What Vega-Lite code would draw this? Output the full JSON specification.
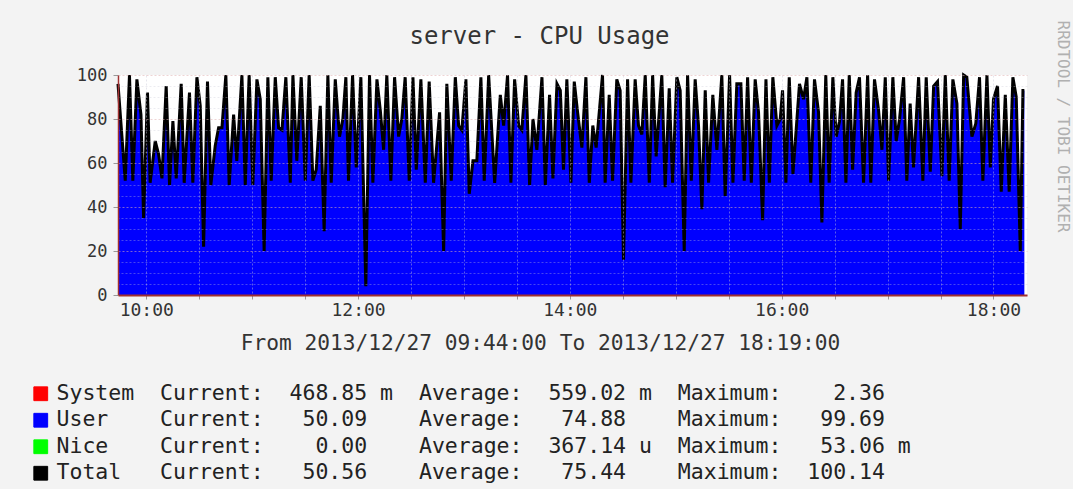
{
  "$schema": "https://vega.github.io/schema/vega-lite/v6.json",
  "width": 909,
  "height": 220,
  "autosize": {"type": "none"},
  "padding": {"left": 118, "top": 75, "right": 46, "bottom": 194},
  "background": "#f3f3f3",
  "config": {"view": {"fill": "#ffffff", "stroke": null}, "font": "DejaVu Sans Mono"},
  "title": {"text": "server - CPU Usage", "font": "DejaVu Sans Mono", "fontSize": 24, "fontWeight": "normal", "color": "#333333", "anchor": "middle", "frame": "group", "dx": -33, "offset": -41, "baseline": "middle"},
  "data": {"values": [
    {"t": 584.0, "v": 96}, {"t": 588.1, "v": 52}, {"t": 590.5, "v": 100}, {"t": 592.4, "v": 52}, {"t": 594.7, "v": 98}, {"t": 597.0, "v": 82}, {"t": 598.5, "v": 35}, {"t": 600.7, "v": 92}, {"t": 602.2, "v": 51}, {"t": 605.1, "v": 70}, {"t": 607.0, "v": 64}, {"t": 608.9, "v": 53}, {"t": 611.3, "v": 95}, {"t": 613.2, "v": 50}, {"t": 615.1, "v": 79}, {"t": 617.0, "v": 53}, {"t": 619.8, "v": 96}, {"t": 621.5, "v": 51}, {"t": 624.5, "v": 92}, {"t": 626.4, "v": 51}, {"t": 628.7, "v": 99}, {"t": 630.6, "v": 86}, {"t": 632.5, "v": 22}, {"t": 634.7, "v": 97}, {"t": 636.6, "v": 50}, {"t": 639.1, "v": 68}, {"t": 641.0, "v": 76}, {"t": 642.9, "v": 76}, {"t": 645.1, "v": 100}, {"t": 647.0, "v": 50}, {"t": 649.5, "v": 82}, {"t": 651.3, "v": 61}, {"t": 654.2, "v": 100}, {"t": 656.1, "v": 50}, {"t": 658.3, "v": 100}, {"t": 660.4, "v": 50}, {"t": 662.7, "v": 98}, {"t": 664.6, "v": 89}, {"t": 666.8, "v": 20}, {"t": 668.9, "v": 99}, {"t": 670.8, "v": 52}, {"t": 673.1, "v": 99}, {"t": 675.0, "v": 76}, {"t": 676.9, "v": 75}, {"t": 679.1, "v": 99}, {"t": 681.6, "v": 51}, {"t": 683.1, "v": 100}, {"t": 685.3, "v": 61}, {"t": 687.8, "v": 99}, {"t": 690.1, "v": 52}, {"t": 692.3, "v": 100}, {"t": 694.4, "v": 52}, {"t": 696.3, "v": 57}, {"t": 698.6, "v": 86}, {"t": 700.8, "v": 29}, {"t": 702.9, "v": 100}, {"t": 704.8, "v": 51}, {"t": 707.1, "v": 98}, {"t": 709.5, "v": 72}, {"t": 711.4, "v": 80}, {"t": 713.1, "v": 99}, {"t": 714.6, "v": 52}, {"t": 716.9, "v": 100}, {"t": 719.0, "v": 58}, {"t": 721.6, "v": 99}, {"t": 724.4, "v": 4}, {"t": 726.5, "v": 100}, {"t": 728.4, "v": 51}, {"t": 730.7, "v": 98}, {"t": 732.6, "v": 84}, {"t": 734.5, "v": 66}, {"t": 736.3, "v": 100}, {"t": 738.6, "v": 52}, {"t": 740.7, "v": 99}, {"t": 743.0, "v": 72}, {"t": 744.8, "v": 80}, {"t": 746.7, "v": 99}, {"t": 749.0, "v": 52}, {"t": 751.1, "v": 99}, {"t": 753.0, "v": 57}, {"t": 755.6, "v": 98}, {"t": 758.1, "v": 51}, {"t": 760.3, "v": 97}, {"t": 762.8, "v": 51}, {"t": 766.2, "v": 83}, {"t": 768.5, "v": 20}, {"t": 770.3, "v": 96}, {"t": 772.8, "v": 52}, {"t": 775.1, "v": 99}, {"t": 777.0, "v": 77}, {"t": 778.8, "v": 75}, {"t": 781.1, "v": 98}, {"t": 783.0, "v": 46}, {"t": 785.1, "v": 61}, {"t": 787.3, "v": 61}, {"t": 789.6, "v": 99}, {"t": 791.5, "v": 52}, {"t": 794.0, "v": 100}, {"t": 797.4, "v": 51}, {"t": 800.6, "v": 91}, {"t": 802.5, "v": 77}, {"t": 804.7, "v": 100}, {"t": 806.6, "v": 51}, {"t": 808.7, "v": 98}, {"t": 811.0, "v": 77}, {"t": 812.8, "v": 75}, {"t": 815.1, "v": 100}, {"t": 817.2, "v": 50}, {"t": 819.1, "v": 80}, {"t": 821.3, "v": 66}, {"t": 824.2, "v": 99}, {"t": 826.1, "v": 50}, {"t": 828.5, "v": 91}, {"t": 830.4, "v": 53}, {"t": 832.7, "v": 96}, {"t": 834.6, "v": 93}, {"t": 836.4, "v": 57}, {"t": 838.3, "v": 98}, {"t": 840.6, "v": 51}, {"t": 842.5, "v": 97}, {"t": 844.4, "v": 83}, {"t": 846.8, "v": 67}, {"t": 849.1, "v": 99}, {"t": 851.0, "v": 51}, {"t": 853.0, "v": 77}, {"t": 854.9, "v": 67}, {"t": 858.5, "v": 100}, {"t": 860.0, "v": 51}, {"t": 862.3, "v": 91}, {"t": 864.2, "v": 52}, {"t": 866.6, "v": 98}, {"t": 868.5, "v": 93}, {"t": 870.4, "v": 16}, {"t": 872.7, "v": 98}, {"t": 874.6, "v": 51}, {"t": 877.0, "v": 98}, {"t": 878.9, "v": 77}, {"t": 880.8, "v": 73}, {"t": 882.7, "v": 100}, {"t": 885.0, "v": 51}, {"t": 886.9, "v": 100}, {"t": 888.9, "v": 63}, {"t": 892.1, "v": 100}, {"t": 894.0, "v": 49}, {"t": 896.3, "v": 94}, {"t": 898.2, "v": 51}, {"t": 900.6, "v": 99}, {"t": 902.5, "v": 93}, {"t": 904.8, "v": 20}, {"t": 906.7, "v": 100}, {"t": 908.8, "v": 52}, {"t": 911.0, "v": 98}, {"t": 912.9, "v": 77}, {"t": 914.8, "v": 39}, {"t": 916.7, "v": 93}, {"t": 918.6, "v": 51}, {"t": 921.0, "v": 91}, {"t": 923.3, "v": 66}, {"t": 926.1, "v": 100}, {"t": 928.0, "v": 45}, {"t": 930.5, "v": 100}, {"t": 932.4, "v": 51}, {"t": 934.6, "v": 96}, {"t": 936.9, "v": 96}, {"t": 938.8, "v": 52}, {"t": 940.7, "v": 99}, {"t": 942.8, "v": 51}, {"t": 945.0, "v": 98}, {"t": 946.9, "v": 83}, {"t": 949.2, "v": 34}, {"t": 951.1, "v": 98}, {"t": 953.0, "v": 51}, {"t": 955.0, "v": 99}, {"t": 957.3, "v": 77}, {"t": 959.2, "v": 80}, {"t": 960.5, "v": 93}, {"t": 962.4, "v": 51}, {"t": 964.3, "v": 99}, {"t": 966.4, "v": 55}, {"t": 970.1, "v": 96}, {"t": 972.4, "v": 89}, {"t": 974.3, "v": 99}, {"t": 976.5, "v": 51}, {"t": 978.6, "v": 98}, {"t": 980.9, "v": 83}, {"t": 982.8, "v": 33}, {"t": 985.0, "v": 100}, {"t": 986.9, "v": 51}, {"t": 989.0, "v": 99}, {"t": 990.9, "v": 72}, {"t": 992.8, "v": 79}, {"t": 994.5, "v": 98}, {"t": 996.4, "v": 51}, {"t": 998.3, "v": 100}, {"t": 1000.2, "v": 57}, {"t": 1002.2, "v": 92}, {"t": 1004.1, "v": 99}, {"t": 1006.4, "v": 51}, {"t": 1008.7, "v": 100}, {"t": 1010.5, "v": 51}, {"t": 1012.6, "v": 98}, {"t": 1014.9, "v": 84}, {"t": 1016.8, "v": 66}, {"t": 1018.7, "v": 99}, {"t": 1020.6, "v": 52}, {"t": 1023.0, "v": 99}, {"t": 1024.9, "v": 70}, {"t": 1026.8, "v": 80}, {"t": 1029.1, "v": 99}, {"t": 1030.9, "v": 52}, {"t": 1032.8, "v": 87}, {"t": 1034.7, "v": 58}, {"t": 1037.6, "v": 99}, {"t": 1040.0, "v": 52}, {"t": 1041.9, "v": 99}, {"t": 1044.2, "v": 56}, {"t": 1046.1, "v": 95}, {"t": 1048.3, "v": 97}, {"t": 1050.8, "v": 54}, {"t": 1052.7, "v": 100}, {"t": 1054.9, "v": 52}, {"t": 1057.0, "v": 98}, {"t": 1059.3, "v": 87}, {"t": 1061.2, "v": 30}, {"t": 1063.1, "v": 100}, {"t": 1064.9, "v": 99}, {"t": 1067.8, "v": 72}, {"t": 1070.0, "v": 78}, {"t": 1072.1, "v": 99}, {"t": 1074.0, "v": 52}, {"t": 1076.3, "v": 100}, {"t": 1078.2, "v": 58}, {"t": 1080.0, "v": 89}, {"t": 1082.3, "v": 95}, {"t": 1084.4, "v": 47}, {"t": 1086.7, "v": 91}, {"t": 1088.9, "v": 47}, {"t": 1091.0, "v": 99}, {"t": 1092.9, "v": 90}, {"t": 1095.2, "v": 20}, {"t": 1096.7, "v": 93}, {"t": 1097.5, "v": 93}
  ]},
  "encoding": {
    "x": {
      "field": "t", "type": "quantitative",
      "scale": {"domain": [584, 1099], "nice": false, "zero": false},
      "axis": {
        "values": [600, 630, 660, 690, 720, 750, 780, 810, 840, 870, 900, 930, 960, 990, 1020, 1050, 1080],
        "labelExpr": "(datum.value % 120 == 0) ? ((datum.value / 60 < 10 ? '0' : '') + (datum.value / 60) + ':00') : ''",
        "labelFont": "DejaVu Sans Mono", "labelFontSize": 18, "labelColor": "#333333", "labelPadding": 2,
        "labelFlush": false, "labelOverlap": false,
        "tickSize": 4, "tickColor": "#999999",
        "domainColor": "#a03030", "domainWidth": 2,
        "grid": true, "gridColor": "#c8c8d8", "gridOpacity": 0.45, "gridDash": [2, 2],
        "zindex": 1,
        "title": "From 2013/12/27 09:44:00 To 2013/12/27 18:19:00",
        "titleFont": "DejaVu Sans Mono", "titleFontSize": 21.2, "titleFontWeight": "normal", "titleColor": "#333333",
        "titleX": 422, "titleY": 48, "titleAlign": "center", "titleBaseline": "middle"
      }
    }
  },
  "layer": [
    {
      "mark": {"type": "area", "interpolate": "linear", "opacity": 1},
      "encoding": {
        "y": {
          "field": "v", "type": "quantitative",
          "scale": {"domain": [0, 100], "nice": false},
          "axis": {
            "values": [0, 20, 40, 60, 80, 100],
            "labelFont": "DejaVu Sans Mono", "labelFontSize": 17, "labelColor": "#333333", "labelPadding": 6,
            "tickSize": 5, "tickColor": "#999999",
            "domainColor": "#a03030", "domainWidth": 1.5,
            "grid": true, "gridColor": "#e0b0b0", "gridOpacity": 0.55, "gridDash": [2, 2],
            "zindex": 1,
            "title": null
          }
        },
        "color": {
          "datum": "User",
          "scale": {"domain": ["System", "User", "Nice", "Total"], "range": ["#ff0000", "#0000ff", "#00ff00", "#000000"]},
          "legend": {
            "orient": "none", "legendX": -88, "legendY": 308, "title": null,
            "symbolType": "square", "symbolSize": 190, "symbolStrokeWidth": 1, "symbolStrokeColor": "#222222", "symbolOpacity": 1,
            "labelFont": "DejaVu Sans Mono", "labelFontSize": 21.5, "labelColor": "#222222",
            "labelOffset": 5, "labelLimit": 2000, "rowPadding": 3.5, "padding": 0,
            "labelExpr": "datum.label == 'System' ? 'System\u00a0\u00a0Current:\u00a0\u00a0468.85\u00a0m\u00a0\u00a0Average:\u00a0\u00a0559.02\u00a0m\u00a0\u00a0Maximum:\u00a0\u00a0\u00a0\u00a02.36' : datum.label == 'User' ? 'User\u00a0\u00a0\u00a0\u00a0Current:\u00a0\u00a0\u00a050.09\u00a0\u00a0\u00a0\u00a0Average:\u00a0\u00a0\u00a074.88\u00a0\u00a0\u00a0\u00a0Maximum:\u00a0\u00a0\u00a099.69' : datum.label == 'Nice' ? 'Nice\u00a0\u00a0\u00a0\u00a0Current:\u00a0\u00a0\u00a0\u00a00.00\u00a0\u00a0\u00a0\u00a0Average:\u00a0\u00a0367.14\u00a0u\u00a0\u00a0Maximum:\u00a0\u00a0\u00a053.06\u00a0m' : 'Total\u00a0\u00a0\u00a0Current:\u00a0\u00a0\u00a050.56\u00a0\u00a0\u00a0\u00a0Average:\u00a0\u00a0\u00a075.44\u00a0\u00a0\u00a0\u00a0Maximum:\u00a0\u00a0100.14'",
            "encode": {"symbols": {"update": {"fill": {"scale": "color", "field": "value"}, "stroke": {"value": "#222222"}, "strokeWidth": {"value": 1}, "opacity": {"value": 1}, "shape": {"value": "square"}, "size": {"value": 190}}}}
          }
        }
      }
    },
    {
      "mark": {"type": "line", "strokeWidth": 3, "interpolate": "linear", "color": "#111111"},
      "encoding": {
        "y": {
          "field": "v", "type": "quantitative",
          "scale": {"domain": [0, 100], "nice": false},
          "axis": {
            "orient": "right",
            "values": [5, 10, 15, 25, 30, 35, 45, 50, 55, 65, 70, 75, 85, 90, 95],
            "labels": false, "ticks": false, "domain": false,
            "grid": true, "gridColor": "#c8c8d8", "gridOpacity": 0.35, "gridDash": [2, 2],
            "zindex": 1,
            "title": "RRDTOOL / TOBI OETIKER",
            "titleFont": "DejaVu Sans Mono", "titleFontSize": 16, "titleFontWeight": "normal", "titleColor": "#b0b0b0",
            "titleAngle": 90, "titleX": 35, "titleY": -55, "titleAlign": "left", "titleBaseline": "middle"
          }
        },
        "color": {"datum": "Total"}
      }
    }
  ],
  "resolve": {"scale": {"y": "independent"}}
}
